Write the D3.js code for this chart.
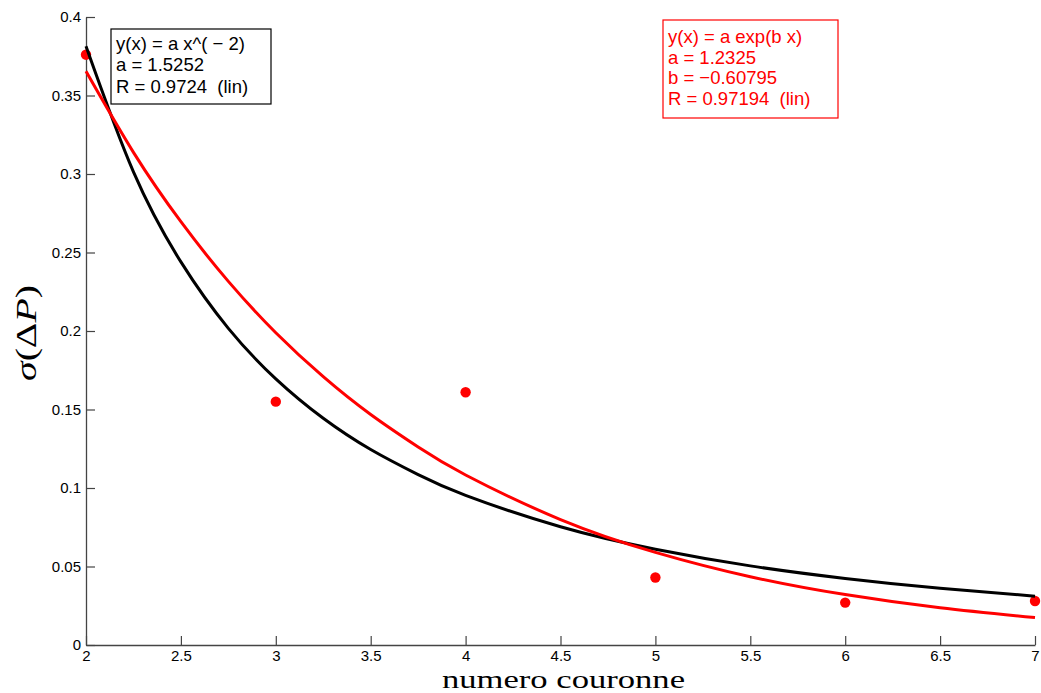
<!DOCTYPE html>
<html>
<head>
<meta charset="utf-8">
<script src="https://cdn.jsdelivr.net/npm/d3@7"></script>
<style>
  html, body { margin: 0; padding: 0; background: #fff; }
  svg { display: block; }
</style>
</head>
<body>
<svg id="chart" width="1041" height="693"></svg>
<script>
// ---- data ----
const pointX = [2, 3, 4, 5, 6, 7];
const pointY = [0.376, 0.155, 0.161, 0.043, 0.027, 0.028];

const fitX = [2, 2.25, 2.5, 2.75, 3, 3.25, 3.5, 3.75, 4, 4.5, 5, 5.5, 6, 6.5, 7];
const powerFitY = [0.3813, 0.3013, 0.2440, 0.2017, 0.1695, 0.1444, 0.1245, 0.1085, 0.0953, 0.0753, 0.0610, 0.0504, 0.0424, 0.0361, 0.0311];
const expFitY   = [0.3654, 0.3138, 0.2696, 0.2316, 0.1989, 0.1709, 0.1468, 0.1261, 0.1083, 0.0799, 0.0590, 0.0435, 0.0321, 0.0237, 0.0175];

const xTicks = [2, 2.5, 3, 3.5, 4, 4.5, 5, 5.5, 6, 6.5, 7];
const yTicks = [0, 0.05, 0.1, 0.15, 0.2, 0.25, 0.3, 0.35, 0.4];

const powerLegend = ["y(x) = a x^( \u2212 2)", "a = 1.5252", "R = 0.9724  (lin)"];
const expLegend = ["y(x) = a exp(b x)", "a = 1.2325", "b = \u22120.60795", "R = 0.97194  (lin)"];

const xLabel = "numero couronne";

// ---- drawing ----
const svg = d3.select("#chart");
const x = d3.scaleLinear().domain([2, 7]).range([86, 1035]);
const y = d3.scaleLinear().domain([0, 0.4]).range([645, 17]);

const axisColor = "#444";
const tickFont = "Liberation Sans, Arial, sans-serif";

// x axis
const xAxis = svg.append("g").attr("transform", `translate(0,${y(0)})`)
  .call(d3.axisBottom(x).tickValues(xTicks).tickSizeInner(-9).tickSizeOuter(0).tickPadding(7)
    .tickFormat(d => String(d)));
// y axis
const yAxis = svg.append("g").attr("transform", `translate(${x(2)},0)`)
  .call(d3.axisLeft(y).tickValues(yTicks).tickSizeInner(-9).tickSizeOuter(0).tickPadding(5)
    .tickFormat(d => String(d)));

[xAxis, yAxis].forEach(g => {
  g.select(".domain").attr("stroke", axisColor).attr("stroke-width", 1.3);
  g.selectAll(".tick line").attr("stroke", axisColor).attr("stroke-width", 1.2);
  g.selectAll(".tick text").attr("fill", "#000").style("font-family", tickFont).style("font-size", "15px");
});
yAxis.selectAll(".tick text").attr("x", -5);
xAxis.selectAll(".tick text").attr("y", 5);

// data points
svg.append("g").selectAll("circle").data(pointX).join("circle")
  .attr("cx", d => x(d)).attr("cy", (d, i) => y(pointY[i])).attr("r", 5.2).attr("fill", "#ff0000");

// fit curves
const line = d3.line().x(d => x(d[0])).y(d => y(d[1])).curve(d3.curveNatural);
svg.append("path").datum(fitX.map((v, i) => [v, powerFitY[i]]))
  .attr("d", line).attr("fill", "none").attr("stroke", "#000").attr("stroke-width", 3);
svg.append("path").datum(fitX.map((v, i) => [v, expFitY[i]]))
  .attr("d", line).attr("fill", "none").attr("stroke", "#ff0000").attr("stroke-width", 3);

// legend boxes
function legend(lines, bx, by, bw, bh, color, firstBase, step) {
  const g = svg.append("g");
  g.append("rect").attr("x", bx).attr("y", by).attr("width", bw).attr("height", bh)
    .attr("fill", "#fff").attr("stroke", color).attr("stroke-width", 1.2);
  g.selectAll("text").data(lines).join("text")
    .attr("x", bx + 5).attr("y", (d, i) => firstBase + i * step)
    .attr("fill", color).style("font-family", tickFont).style("font-size", "18.5px")
    .style("white-space", "pre").attr("xml:space", "preserve")
    .text(d => d);
}
legend(powerLegend, 111, 29, 160, 75, "#000", 50, 21.3);
legend(expLegend, 663, 20, 175, 98, "#ff0000", 43, 20.7);

// axis labels
svg.append("text").attr("x", 563.5).attr("y", 687.5).attr("text-anchor", "middle")
  .attr("textLength", 243).attr("lengthAdjust", "spacingAndGlyphs")
  .style("font-family", "Liberation Serif, Times New Roman, serif").style("font-size", "26px")
  .text(xLabel);

const yl = svg.append("text").attr("transform", "translate(36,333) rotate(-90)")
  .attr("text-anchor", "middle").attr("textLength", 96).attr("lengthAdjust", "spacingAndGlyphs")
  .style("font-family", "Liberation Serif, Times New Roman, serif").style("font-size", "30px");
yl.append("tspan").style("font-style", "italic").text("\u03C3");
yl.append("tspan").text("(\u0394");
yl.append("tspan").style("font-style", "italic").text("P");
yl.append("tspan").text(")");
</script>
</body>
</html>
